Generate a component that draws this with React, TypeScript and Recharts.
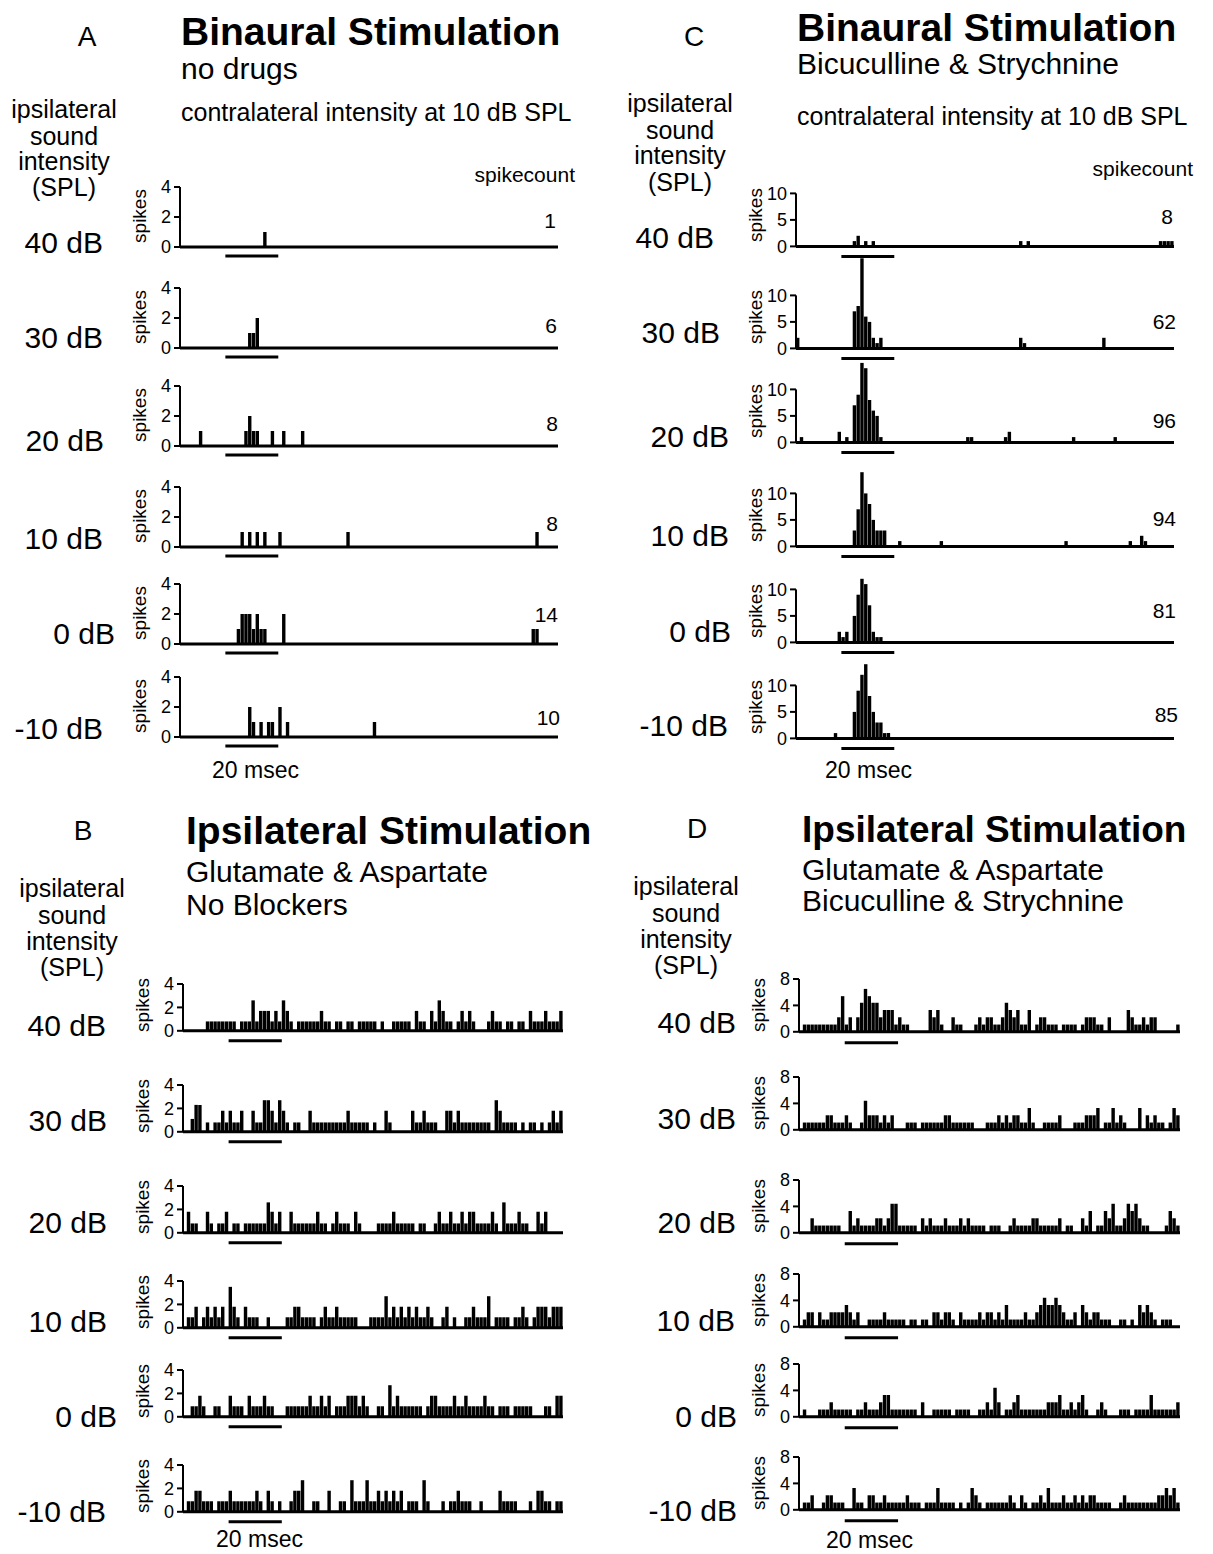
import React from 'react';
import { BarChart, Bar, XAxis, YAxis, ReferenceLine } from 'recharts';

const FONT = '"Liberation Sans", Arial, Helvetica, sans-serif';
const BIN_COUNT = 100;
const STIM = [12, 26]; // 20 msec stimulus bar, in bins

const LEVELS = ['40 dB', '30 dB', '20 dB', '10 dB', '0 dB', '-10 dB'];
const COUNTS_A = ['1', '6', '8', '8', '14', '10'];
const COUNTS_C = ['8', '62', '96', '94', '81', '85'];

// A: binaural, no drugs. sparse [bin, spikes]
const A_40 = [[22, 1]];
const A_30 = [[18, 1], [19, 1], [20, 2]];
const A_20 = [[5, 1], [17, 1], [18, 2], [19, 1], [20, 1], [24, 1], [27, 1], [32, 1]];
const A_10 = [[16, 1], [18, 1], [20, 1], [22, 1], [26, 1], [44, 1], [94, 1]];
const A_0 = [[15, 1], [16, 2], [17, 2], [18, 2], [19, 1], [20, 2], [21, 1], [22, 1], [27, 2], [93, 1], [94, 1]];
const A_m10 = [[18, 2], [19, 1], [21, 1], [23, 1], [24, 1], [26, 2], [28, 1], [51, 1]];

// C: binaural, bicuculline & strychnine. sparse [bin, spikes]
const C_40 = [[15, 1], [16, 2], [18, 1], [20, 1], [59, 1], [61, 1], [96, 1], [97, 1], [98, 1], [99, 1]];
const C_30 = [[0, 2], [15, 7], [16, 8], [17, 17], [18, 6], [19, 5], [20, 2], [21, 1], [22, 2], [59, 2], [60, 1], [81, 2]];
const C_20 = [[1, 1], [11, 2], [13, 1], [15, 7], [16, 9], [17, 15], [18, 14], [19, 8], [20, 6], [21, 5], [22, 1], [45, 1], [46, 1], [55, 1], [56, 2], [73, 1], [84, 1]];
const C_10 = [[15, 3], [16, 7], [17, 14], [18, 10], [19, 8], [20, 5], [21, 3], [22, 3], [23, 3], [27, 1], [38, 1], [71, 1], [88, 1], [91, 2], [92, 1]];
const C_0 = [[11, 2], [12, 1], [13, 2], [15, 5], [16, 9], [17, 12], [18, 11], [19, 7], [20, 2], [21, 1], [22, 1]];
const C_m10 = [[10, 1], [15, 5], [16, 9], [17, 12], [18, 14], [19, 8], [20, 5], [21, 3], [22, 3], [23, 1], [24, 1]];

// B: ipsilateral, glutamate & aspartate, no blockers (100 bins)
const B_40 = [
  0, 0, 0, 0, 0, 0, .8, .8, .8, .8,
  .8, .8, .8, .8, 0, .8, .8, .8, 2.6, .8,
  1.7, 1.7, 1.7, .8, 1.7, .8, 2.6, 1.7, .8, 0,
  .8, .8, .8, .8, .8, .8, 1.7, .8, .8, 0,
  .8, .8, 0, .8, .8, 0, .8, .8, .8, .8,
  .8, 0, .8, 0, 0, .8, .8, .8, .8, .8,
  0, 1.7, .8, .8, 0, 1.7, .8, 2.6, 1.7, .8,
  .8, 0, .8, 1.7, .8, 1.7, .8, 0, 0, 0,
  .8, 1.7, .8, .8, 0, .8, .8, 0, .8, .8,
  0, 1.7, .8, .8, .8, 1.7, .8, .8, .8, 1.7,
];
const B_30 = [
  0, 0, 1.1, 2.3, 2.3, 0, .8, 0, .8, .8,
  1.8, .8, 1.8, .8, .8, 1.8, 0, 0, 1.8, .8,
  .8, 2.7, 2.7, 1.8, .8, 2.7, 1.8, .8, 0, .8,
  .8, 0, 0, 1.8, .8, .8, .8, .8, .8, .8,
  .8, .8, .8, 1.8, .8, .8, .8, .8, .8, 0,
  .8, 0, 0, 1.8, .8, 0, 0, 0, 0, 0,
  1.8, .8, .8, 1.8, .8, .8, .8, 0, 0, 1.8,
  1.8, .8, 1.8, .8, .8, .8, .8, .8, .8, .8,
  .8, 0, 2.7, 1.8, .8, .8, .8, .8, 0, .8,
  0, .8, .8, 0, .8, 0, .8, 1.8, .8, 1.8,
];
const B_20 = [
  0, 1.8, .8, .8, 0, 0, 1.8, .8, 0, .8,
  .8, 1.8, 0, .8, .8, 0, .8, .8, .8, .8,
  .8, .8, 2.6, 1.8, .8, 1.8, 0, 0, 1.8, .8,
  .8, .8, .8, .8, .8, 1.8, .8, .8, 0, .8,
  1.8, .8, .8, .8, 0, 1.8, .8, 0, 0, 0,
  0, .8, .8, .8, .8, 1.8, .8, .8, .8, .8,
  .8, 0, .8, .8, 0, 0, .8, 1.8, .8, .8,
  1.8, .8, .8, 1.8, .8, 1.8, 1.8, .8, .8, .8,
  .8, 1.8, .8, 0, 2.6, .8, .8, .8, 1.8, .8,
  .8, 0, 0, 1.8, .8, 1.8, 0, 0, 0, 0,
];
const B_10 = [
  0, .9, .9, 1.8, 0, .9, 1.8, .9, 1.8, .9,
  1.8, 0, 3.5, 1.8, .9, 0, 1.8, .9, .9, .9,
  0, 0, .9, 0, 0, 0, 0, .9, .9, 1.8,
  1.8, .9, .9, .9, .9, 0, .9, 1.8, .9, .9,
  1.8, .9, .9, .9, .9, .9, 0, 0, 0, .9,
  .9, .9, .9, 2.7, .9, 1.8, .9, 1.8, .9, 1.8,
  .9, 1.8, .9, .9, 1.8, .9, 0, 0, .9, 1.8,
  0, .9, 0, 0, .9, .9, 1.8, .9, .9, .9,
  2.7, 0, .9, .9, .9, .9, 0, .9, .9, 1.8,
  .9, 0, .9, 1.8, 1.8, 1.8, .9, 1.8, 1.8, 1.8,
];
const B_0 = [
  0, 0, .9, .9, 1.8, .9, 0, 0, .9, .9,
  0, 0, 1.8, .9, .9, .9, 0, 1.8, .9, .9,
  .9, 1.8, .9, .9, 0, 0, 0, .9, .9, .9,
  .9, .9, .9, 1.8, .9, .9, 1.8, .9, 1.8, 0,
  .9, .9, .9, 1.8, 1.8, 1.8, .9, 1.8, .9, 0,
  0, .9, .9, 0, 2.7, .9, 1.8, .9, .9, .9,
  .9, .9, .9, 0, .9, 1.8, 1.8, .9, .9, .9,
  .9, 1.8, .9, .9, 1.8, .9, .9, .9, .9, 1.8,
  .9, .9, 0, .9, .9, .9, 0, .9, .9, .9,
  .9, .9, 0, 0, 0, .9, .9, 0, 1.8, 1.8,
];
const B_m10 = [
  0, .9, .9, 1.8, 1.8, .9, .9, .9, 0, .9,
  .9, .9, 1.8, .9, .9, .9, .9, .9, .9, 1.8,
  .9, 0, 1.8, .9, 0, .9, 0, 0, .9, 1.8,
  1.8, 2.7, 0, 0, .9, .9, 0, 0, 1.8, 0,
  0, .9, .9, 0, 2.7, .9, .9, .9, 2.7, .9,
  .9, 1.8, .9, 1.8, .9, 1.8, .9, 1.8, 0, .9,
  .9, .9, 0, 2.7, .9, 0, 0, 0, .9, 0,
  .9, .9, 1.8, .9, .9, .9, 0, 0, .9, 0,
  0, 0, 0, 1.8, .9, .9, .9, .9, 0, 0,
  0, .9, 0, 1.8, 1.8, .9, .9, 0, .9, .9,
];

// D: ipsilateral, glutamate & aspartate, bicuculline & strychnine (100 bins)
const D_40 = [
  0, 1.1, 1.1, 1.1, 1.1, 1.1, 1.1, 1.1, 1.1, 1.1,
  2.2, 5.4, 1.1, 2.2, 0, 2.2, 4.4, 6.5, 5.4, 4.4,
  4.4, 2.2, 3.3, 3.3, 3.3, 1.1, 2.2, 1.1, 1.1, 0,
  0, 0, 0, 0, 3.3, 2.2, 3.3, 1.1, 0, 0,
  2.2, 1.1, 1.1, 0, 0, 0, 1.1, 2.2, 1.1, 2.2,
  2.2, 1.1, 1.1, 2.2, 4.4, 3.3, 2.2, 3.3, 1.1, 1.1,
  3.3, 0, 1.1, 2.2, 2.2, 1.1, 1.1, 1.1, 0, 1.1,
  1.1, 1.1, 1.1, 0, 1.1, 2.2, 2.2, 2.2, 1.1, 1.1,
  0, 2.2, 0, 0, 0, 0, 3.3, 2.2, 1.1, 1.1,
  2.2, 1.1, 2.2, 2.2, 0, 0, 0, 0, 0, 1.1,
];
const D_30 = [
  0, 1.1, 1.1, 1.1, 1.1, 1.1, 1.1, 2.2, 2.2, 1.1,
  1.1, 1.1, 2.2, 1.1, 0, 0, 1.1, 4.4, 2.2, 2.2,
  2.2, 1.1, 2.2, 1.1, 2.2, 0, 0, 0, 1.1, 1.1,
  1.1, 0, 1.1, 1.1, 1.1, 1.1, 1.1, 1.1, 2.2, 2.2,
  1.1, 1.1, 1.1, 1.1, 1.1, 1.1, 0, 0, 0, 1.1,
  1.1, 1.1, 2.2, 1.1, 2.2, 1.1, 2.2, 2.2, 1.1, 1.1,
  3.3, 1.1, 0, 0, 1.1, 1.1, 1.1, 1.1, 2.2, 0,
  0, 0, 1.1, 1.1, 1.1, 2.2, 2.2, 2.2, 3.3, 0,
  1.1, 1.1, 3.3, 1.1, 2.2, 1.1, 0, 0, 0, 3.3,
  0, 2.2, 1.1, 2.2, 1.1, 1.1, 0, 1.1, 3.3, 2.2,
];
const D_20 = [
  0, 0, 0, 2.2, 1.1, 1.1, 1.1, 1.1, 1.1, 1.1,
  1.1, 0, 0, 3.3, 1.1, 2.2, 1.1, 1.1, 1.1, 1.1,
  2.2, 2.2, 1.1, 2.2, 4.4, 4.4, 1.1, 1.1, 1.1, 1.1,
  1.1, 0, 2.2, 1.1, 2.2, 1.1, 1.1, 1.1, 2.2, 1.1,
  1.1, 1.1, 2.2, 1.1, 2.2, 1.1, 1.1, 1.1, 1.1, 0,
  1.1, 1.1, 1.1, 0, 0, 1.1, 2.2, 1.1, 1.1, 1.1,
  1.1, 2.2, 2.2, 1.1, 1.1, 1.1, 1.1, 1.1, 2.2, 0,
  1.1, 1.1, 0, 0, 2.2, 1.1, 3.3, 0, 1.1, 1.1,
  3.3, 2.2, 4.4, 1.1, 1.1, 2.2, 4.4, 3.3, 4.4, 2.2,
  1.1, 1.1, 0, 0, 0, 0, 1.1, 3.3, 2.2, 1.1,
];
const D_10 = [
  0, 1.1, 2.2, 2.2, 0, 2.2, 1.1, 1.1, 2.2, 2.2,
  2.2, 2.2, 3.3, 2.2, 1.1, 2.2, 0, 0, 1.1, 1.1,
  1.1, 1.1, 2.2, 1.1, 1.1, 1.1, 1.1, 1.1, 0, 1.1,
  1.1, 0, 1.1, 1.1, 0, 2.2, 2.2, 1.1, 2.2, 2.2,
  1.1, 0, 2.2, 1.1, 1.1, 1.1, 1.1, 2.2, 1.1, 2.2,
  2.2, 1.1, 2.2, 1.1, 3.3, 1.1, 1.1, 1.1, 1.1, 2.2,
  1.1, 1.1, 2.2, 3.3, 4.4, 3.3, 3.3, 4.4, 3.3, 2.2,
  1.1, 1.1, 2.2, 0, 3.3, 2.2, 1.1, 2.2, 2.2, 1.1,
  1.1, 1.1, 0, 0, 1.1, 1.1, 0, 1.1, 0, 3.3,
  2.2, 3.3, 2.2, 1.1, 0, 1.1, 1.1, 1.1, 0, 0,
];
const D_0 = [
  0, 1.1, 0, 0, 0, 1.1, 1.1, 1.1, 2.2, 1.1,
  1.1, 1.1, 1.1, 1.1, 0, 1.1, 1.1, 2.2, 1.1, 1.1,
  1.1, 2.2, 3.3, 3.3, 1.1, 1.1, 1.1, 1.1, 1.1, 1.1,
  1.1, 0, 2.2, 0, 0, 1.1, 1.1, 1.1, 1.1, 1.1,
  0, 1.1, 1.1, 1.1, 1.1, 0, 0, 1.1, 1.1, 2.2,
  1.1, 4.4, 2.2, 0, 1.1, 1.1, 2.2, 3.3, 1.1, 1.1,
  1.1, 1.1, 1.1, 1.1, 1.1, 2.2, 2.2, 2.2, 3.3, 1.1,
  1.1, 2.2, 1.1, 2.2, 3.3, 1.1, 0, 0, 1.1, 2.2,
  1.1, 0, 0, 0, 1.1, 1.1, 1.1, 0, 1.1, 1.1,
  1.1, 1.1, 3.3, 1.1, 1.1, 1.1, 1.1, 1.1, 1.1, 2.2,
];
const D_m10 = [
  0, 1.1, 1.1, 2.2, 0, 0, 1.1, 2.2, 2.2, 1.1,
  1.1, 1.1, 0, 0, 3.3, 1.1, 1.1, 0, 2.2, 2.2,
  1.1, 1.1, 2.2, 1.1, 1.1, 1.1, 1.1, 1.1, 2.2, 1.1,
  1.1, 1.1, 0, 1.1, 1.1, 1.1, 3.3, 1.1, 1.1, 1.1,
  1.1, 0, 1.1, 0, 1.1, 3.3, 2.2, 1.1, 0, 1.1,
  1.1, 1.1, 1.1, 1.1, 1.1, 2.2, 1.1, 0, 2.2, 1.1,
  0, 1.1, 1.1, 2.2, 1.1, 3.3, 1.1, 1.1, 1.1, 2.2,
  1.1, 1.1, 2.2, 1.1, 2.2, 1.1, 2.2, 2.2, 1.1, 1.1,
  1.1, 1.1, 0, 0, 1.1, 2.2, 1.1, 1.1, 1.1, 1.1,
  1.1, 1.1, 1.1, 1.1, 2.2, 2.2, 3.3, 2.2, 3.3, 1.1,
];

const fromSparse = (pairs: number[][]) => {
  const v = new Array(BIN_COUNT).fill(0);
  pairs.forEach(([bin, n]) => { v[bin] = n; });
  return v;
};

const toRows = (values: number[]) => values.map((v, t) => ({ t, v }));

// layout of the four panels (pixels)
const PANELS = [
  {
    axisX: 180, right: 558, unit: 15, yMax: 4, ticks: [0, 2, 4], spikesDy: 31,
    baselines: [247, 348, 446, 547, 644, 737], stimDy: 9, stims: [1, 1, 1, 1, 1, 1],
    series: [A_40, A_30, A_20, A_10, A_0, A_m10].map(fromSparse),
  },
  {
    axisX: 796, right: 1174, unit: 5.3, yMax: 18, ticks: [0, 5, 10], spikesDy: 31,
    baselines: [246, 348, 442, 546, 642, 738], stimDy: 10, stims: [1, 1, 1, 1, 1, 1],
    series: [C_40, C_30, C_20, C_10, C_0, C_m10].map(fromSparse),
  },
  {
    axisX: 183, right: 563, unit: 11.7, yMax: 4, ticks: [0, 2, 4], spikesDy: 26,
    baselines: [1031, 1132, 1233, 1328, 1417, 1512], stimDy: 10, stims: [1, 1, 1, 1, 1, 1],
    series: [B_40, B_30, B_20, B_10, B_0, B_m10],
  },
  {
    axisX: 799, right: 1180, unit: 6.6, yMax: 8, ticks: [0, 4, 8], spikesDy: 27,
    baselines: [1032, 1130, 1233, 1327, 1417, 1510], stimDy: 11, stims: [1, 0, 1, 1, 1, 1],
    series: [D_40, D_30, D_20, D_10, D_0, D_m10],
  },
];

function Histogram({ values, axisX, right, baseline, unit, yMax, ticks, stim, stimDy }: any) {
  const yW = 34;
  const mTop = 12;
  const mRight = 4;
  const xH = 2;
  const mBottom = 18;
  const plotW = right - axisX;
  const plotH = yMax * unit;
  const topTick = ticks[ticks.length - 1];
  const stimY = -stimDy / unit;
  return (
    <div style={{ position: 'absolute', left: axisX - yW, top: baseline - plotH - mTop }}>
      <BarChart
        width={yW + plotW + mRight}
        height={mTop + plotH + xH + mBottom}
        data={toRows(values)}
        margin={{ top: mTop, right: mRight, bottom: mBottom, left: 0 }}
        barCategoryGap={0}
        barGap={0}
      >
        <XAxis dataKey="t" type="category" tick={false} tickLine={false} height={xH}
          axisLine={{ stroke: '#000', strokeWidth: 3 }} />
        <YAxis type="number" domain={[0, yMax]} ticks={ticks} width={yW} interval={0}
          axisLine={false} tickLine={{ stroke: '#000', strokeWidth: 2 }} tickSize={6} tickMargin={3}
          tick={{ fill: '#000', fontSize: 18, fontFamily: FONT }} />
        <ReferenceLine segment={[{ x: 0, y: 0 }, { x: 0, y: topTick }]} position="start"
          stroke="#000" strokeWidth={2} ifOverflow="visible" />
        {stim ? (
          <ReferenceLine segment={[{ x: STIM[0], y: stimY }, { x: STIM[1], y: stimY }]} position="start"
            stroke="#000" strokeWidth={3} ifOverflow="visible" />
        ) : null}
        <Bar dataKey="v" fill="#000" barSize={Math.ceil(plotW / BIN_COUNT)} isAnimationActive={false} />
      </BarChart>
    </div>
  );
}

const HEADERS = [
  { letter: 'A', lx: 87, ly: 46, tx: 181, ty: 45, title: 'Binaural Stimulation', tsize: 39,
    subs: [['no drugs', 79, 30], ['contralateral intensity at 10 dB SPL', 121, 25]],
    hx: 64, hy: [118, 145, 170, 196] },
  { letter: 'C', lx: 694, ly: 46, tx: 797, ty: 41, title: 'Binaural Stimulation', tsize: 39,
    subs: [['Bicuculline & Strychnine', 74, 30], ['contralateral intensity at 10 dB SPL', 125, 25]],
    hx: 680, hy: [112, 139, 164, 191] },
  { letter: 'B', lx: 83, ly: 840, tx: 186, ty: 844, title: 'Ipsilateral Stimulation', tsize: 39,
    subs: [['Glutamate & Aspartate', 882, 30], ['No Blockers', 915, 30]],
    hx: 72, hy: [897, 924, 950, 976] },
  { letter: 'D', lx: 697, ly: 838, tx: 802, ty: 842, title: 'Ipsilateral Stimulation', tsize: 37,
    subs: [['Glutamate & Aspartate', 880, 30], ['Bicuculline & Strychnine', 911, 30]],
    hx: 686, hy: [895, 922, 948, 974] },
];
const HEADER_LINES = ['ipsilateral', 'sound', 'intensity', '(SPL)'];

const ROW_LABELS = [
  { right: [103, 103, 104, 103, 115, 103], base: [253, 348, 451, 549, 644, 739] },
  { right: [714, 720, 729, 729, 731, 728], base: [248, 343, 447, 546, 642, 736] },
  { right: [106, 107, 107, 107, 117, 106], base: [1036, 1131, 1233, 1332, 1427, 1522] },
  { right: [736, 736, 736, 735, 737, 737], base: [1033, 1129, 1233, 1331, 1427, 1521] },
];

const COUNT_LABELS = [
  { values: COUNTS_A, right: [556, 557, 558, 558, 558, 560], base: [228, 333, 431, 531, 622, 725], hx: 575, hy: 182 },
  { values: COUNTS_C, right: [1173, 1176, 1176, 1176, 1176, 1178], base: [224, 329, 428, 526, 618, 722], hx: 1193, hy: 176 },
];

const MSEC = [[212, 778], [825, 778], [216, 1547], [826, 1548]];

export default function App() {
  return (
    <div style={{ position: 'relative', width: 1213, height: 1554, background: '#fff', fontFamily: FONT }}>
      <style>{'body{margin:0}'}</style>
      {PANELS.map((p, pi) =>
        p.series.map((values, ri) => (
          <Histogram key={`${pi}-${ri}`} values={values} axisX={p.axisX} right={p.right}
            baseline={p.baselines[ri]} unit={p.unit} yMax={p.yMax} ticks={p.ticks}
            stim={p.stims[ri]} stimDy={p.stimDy} />
        ))
      )}
      <svg width={1213} height={1554} style={{ position: 'absolute', left: 0, top: 0, pointerEvents: 'none' }}
        fontFamily={FONT} fill="#000">
        {HEADERS.map((h, i) => (
          <g key={i}>
            <text x={h.lx} y={h.ly} fontSize={28} textAnchor="middle">{h.letter}</text>
            <text x={h.tx} y={h.ty} fontSize={h.tsize} fontWeight="bold">{h.title}</text>
            {h.subs.map(([s, y, size]: any) => (
              <text key={s} x={h.tx} y={y} fontSize={size}>{s}</text>
            ))}
            {HEADER_LINES.map((s, j) => (
              <text key={s} x={h.hx} y={h.hy[j]} fontSize={25} textAnchor="middle">{s}</text>
            ))}
          </g>
        ))}
        {PANELS.map((p, pi) =>
          p.baselines.map((b, ri) => {
            const cx = p.axisX - 41;
            const cy = b - p.spikesDy;
            return (
              <g key={`${pi}-${ri}`}>
                <text transform={`translate(${cx},${cy}) rotate(-90)`} fontSize={19}
                  textAnchor="middle" dominantBaseline="central">spikes</text>
                <text x={ROW_LABELS[pi].right[ri]} y={ROW_LABELS[pi].base[ri]} fontSize={30}
                  textAnchor="end">{LEVELS[ri]}</text>
              </g>
            );
          })
        )}
        {COUNT_LABELS.map((c, i) => (
          <g key={i}>
            <text x={c.hx} y={c.hy} fontSize={21} textAnchor="end">spikecount</text>
            {c.values.map((v, j) => (
              <text key={j} x={c.right[j]} y={c.base[j]} fontSize={21} textAnchor="end">{v}</text>
            ))}
          </g>
        ))}
        {MSEC.map(([x, y], i) => (
          <text key={i} x={x} y={y} fontSize={23}>20 msec</text>
        ))}
      </svg>
    </div>
  );
}
